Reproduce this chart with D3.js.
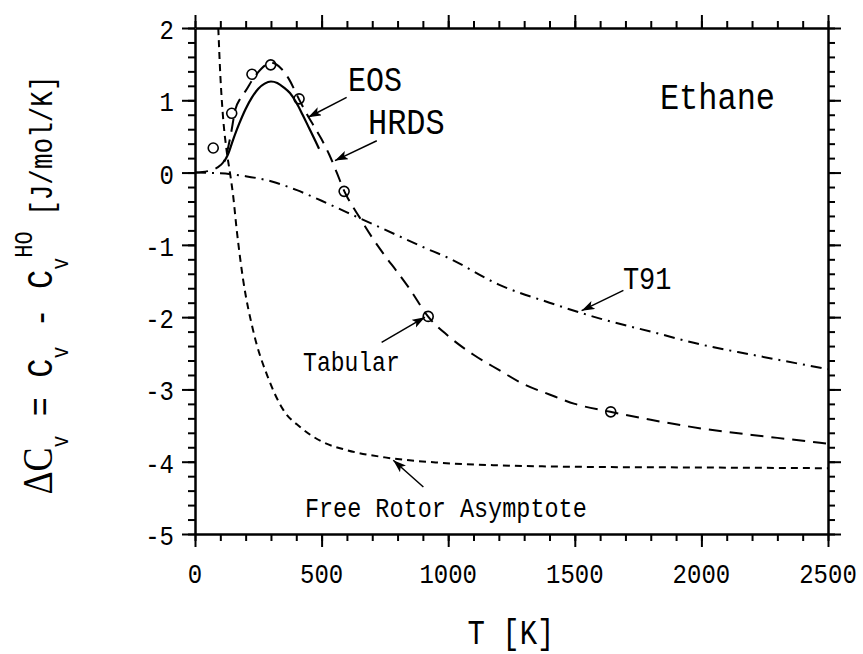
<!DOCTYPE html>
<html>
<head>
<meta charset="utf-8">
<script src="https://cdn.jsdelivr.net/npm/d3@7"></script>
<style>
  body { margin: 0; background: #fff; }
  text { font-family: "Liberation Mono", "Courier New", monospace; fill: #000; }
</style>
</head>
<body>
<svg id="chart" width="863" height="654"></svg>
<script>
// HRDS (long dashes)
const hrdsT = [0, 50, 100, 120, 140, 160, 180, 200, 230, 260, 300, 340, 370, 410, 440, 470, 500, 530, 560, 590, 600, 650, 700, 750, 800, 850, 920, 1000, 1100, 1200, 1300, 1400, 1500, 1640, 1800, 2000, 2200, 2350, 2500];
const hrdsV = [0, 0.02, 0.1, 0.2, 0.5, 0.88, 1.03, 1.13, 1.3, 1.43, 1.52, 1.44, 1.3, 1.02, 0.82, 0.64, 0.46, 0.25, 0.0, -0.26, -0.33, -0.62, -0.9, -1.15, -1.38, -1.62, -1.99, -2.26, -2.52, -2.73, -2.93, -3.07, -3.2, -3.31, -3.42, -3.54, -3.63, -3.69, -3.75];

// EOS (solid)
const eosT = [115, 130, 150, 175, 200, 225, 250, 275, 300, 325, 350, 375, 400, 425, 450, 475, 490];
const eosV = [0.15, 0.25, 0.45, 0.68, 0.88, 1.04, 1.16, 1.23, 1.26, 1.24, 1.18, 1.1, 0.97, 0.8, 0.62, 0.44, 0.33];

// T91 (dash-dot)
const t91T = [0, 100, 200, 300, 400, 500, 600, 700, 800, 900, 1000, 1200, 1400, 1600, 1800, 2000, 2200, 2500];
const t91V = [0, -0.01, -0.05, -0.12, -0.24, -0.39, -0.55, -0.71, -0.87, -1.03, -1.18, -1.55, -1.8, -2.02, -2.2, -2.38, -2.52, -2.72];

// Free rotor asymptote (short dashes)
const frT = [92, 100, 110, 125, 138, 150, 165, 190, 230, 290, 350, 415, 500, 600, 750, 950, 1200, 1500, 2000, 2500];
const frV = [2.0, 1.35, 0.8, 0.3, 0.0, -0.3, -0.8, -1.48, -2.19, -2.85, -3.29, -3.52, -3.72, -3.84, -3.94, -4.01, -4.05, -4.07, -4.08, -4.09];

// Tabular points (circles)
const tabT = [72, 145, 225, 299, 411, 589, 921, 1642];
const tabV = [0.34, 0.82, 1.36, 1.49, 1.02, -0.26, -1.99, -3.31];

// tick labels
const xTicks = [0, 500, 1000, 1500, 2000, 2500];
const yTicks = [2, 1, 0, -1, -2, -3, -4, -5];

// annotations, in data units
const notes = [
  { text: "EOS", t: 604, v: 1.134, size: 30, from: [599, 1.04], to: [447, 0.765] },
  { text: "HRDS", t: 683, v: 0.54, size: 32, from: [718, 0.44], to: [553, 0.166] },
  { text: "Ethane", t: 1836, v: 0.885, size: 32 },
  { text: "T91", t: 1690, v: -1.605, size: 27, from: [1692, -1.63], to: [1527, -1.91] },
  { text: "Tabular", t: 427, v: -2.74, size: 23, from: [737, -2.35], to: [908, -2.0] },
  { text: "Free Rotor Asymptote", t: 434, v: -4.77, size: 23.5, from: [902, -4.35], to: [783, -3.98] },
];

const S = 1.18; // the typewriter lettering in the figure is a bit tall

const svg = d3.select("#chart");
const x = d3.scaleLinear().domain([0, 2500]).range([195, 828]);
const y = d3.scaleLinear().domain([-5, 2]).range([534, 28]);

const zip = (a, b) => a.map((t, i) => [t, b[i]]);
const path = d3.line().x((d) => x(d[0])).y((d) => y(d[1])).curve(d3.curveMonotoneX);

const defs = svg.append("defs");
defs.append("clipPath").attr("id", "plot")
  .append("rect").attr("x", 195).attr("y", 28).attr("width", 633).attr("height", 506);

defs.append("marker")
  .attr("id", "head").attr("markerUnits", "userSpaceOnUse")
  .attr("markerWidth", 14).attr("markerHeight", 10)
  .attr("refX", 13).attr("refY", 4.5).attr("orient", "auto")
  .append("path").attr("d", "M0,0 L13,4.5 L0,9 L3,4.5 Z").attr("fill", "#000");

const stretched = (sel, tx, ty) => sel.attr("transform", `translate(${tx},${ty}) scale(1,${S})`);

// axes: minor ticks every 100 / 0.2, major every 500 / 1
const axes = svg.append("g");
const minorX = d3.range(0, 2501, 100);
const minorY = d3.range(-5, 2.01, 0.2);

const drawAxis = (axisFn, scale, minor, major, tf) => {
  const g = axes.append("g").attr("transform", tf);
  g.call(axisFn(scale).tickValues(minor).tickSize(7).tickSizeOuter(0).tickFormat(""));
  g.append("g").call(axisFn(scale).tickValues(major).tickSize(13).tickSizeOuter(0).tickFormat(""))
    .select(".domain").remove();
  g.selectAll("line").attr("stroke-width", 2);
  g.select(".domain").attr("stroke-width", 2.5);
  return g;
};
drawAxis(d3.axisBottom, x, minorX, xTicks, "translate(0,534)");
drawAxis(d3.axisTop, x, minorX, xTicks, "translate(0,28)");
drawAxis(d3.axisLeft, y, minorY, yTicks, "translate(195,0)");
drawAxis(d3.axisRight, y, minorY, yTicks, "translate(828,0)");

// tick labels
svg.append("g").selectAll("text").data(xTicks).join("text")
  .attr("font-size", 24).attr("text-anchor", "middle")
  .each(function (d) { stretched(d3.select(this), x(d), 583); })
  .text((d) => d);

svg.append("g").selectAll("text").data(yTicks).join("text")
  .attr("font-size", 24).attr("text-anchor", "end")
  .each(function (d) { stretched(d3.select(this), 174, y(d) + 11); })
  .text((d) => d);

// curves
const plot = svg.append("g").attr("clip-path", "url(#plot)")
  .attr("fill", "none").attr("stroke", "#000").attr("stroke-width", 2);

plot.append("path").attr("d", path(zip(frT, frV))).attr("stroke-dasharray", "7 5");
plot.append("path").attr("d", path(zip(t91T, t91V))).attr("stroke-dasharray", "11 6 2 6");
plot.append("path").attr("d", path(zip(hrdsT, hrdsV))).attr("stroke-dasharray", "13 8");
plot.append("path").attr("d", path(zip(eosT, eosV))).attr("stroke-width", 2.2);

plot.selectAll("circle").data(zip(tabT, tabV)).join("circle")
  .attr("cx", (d) => x(d[0])).attr("cy", (d) => y(d[1])).attr("r", 5)
  .attr("stroke-width", 1.6);

// annotations
const ann = svg.append("g");
notes.forEach((n) => {
  stretched(ann.append("text").attr("font-size", n.size), x(n.t), y(n.v)).text(n.text);
  if (n.from) {
    ann.append("line")
      .attr("x1", x(n.from[0])).attr("y1", y(n.from[1]))
      .attr("x2", x(n.to[0])).attr("y2", y(n.to[1]))
      .attr("stroke", "#000").attr("stroke-width", 1.5)
      .attr("marker-end", "url(#head)");
  }
});

// x axis title
stretched(svg.append("text").attr("font-size", 29).attr("text-anchor", "middle"), 511, 644)
  .style("white-space", "pre").text("T [K]");

// y axis title, built from pieces
const yt = svg.append("text")
  .attr("transform", `translate(52,285) rotate(-90) scale(1,${S})`)
  .attr("text-anchor", "middle").style("white-space", "pre");
const sub = 13.5;
yt.append("tspan").attr("font-family", "Liberation Serif, Times New Roman, serif").attr("font-size", 36).text("ΔC");
yt.append("tspan").attr("font-size", 20).attr("dy", sub).text("v");
yt.append("tspan").attr("font-size", 32).attr("dy", -sub).text(" = C");
yt.append("tspan").attr("font-size", 20).attr("dy", sub).text("v");
yt.append("tspan").attr("font-size", 32).attr("dy", -sub).text(" - C");
yt.append("tspan").attr("font-size", 20).attr("dy", sub).text("v");
yt.append("tspan").attr("font-size", 22).attr("dy", -30.5).text("HO");
yt.append("tspan").attr("font-size", 26).attr("dy", 17).text(" [J/mol/K]");
</script>
</body>
</html>
